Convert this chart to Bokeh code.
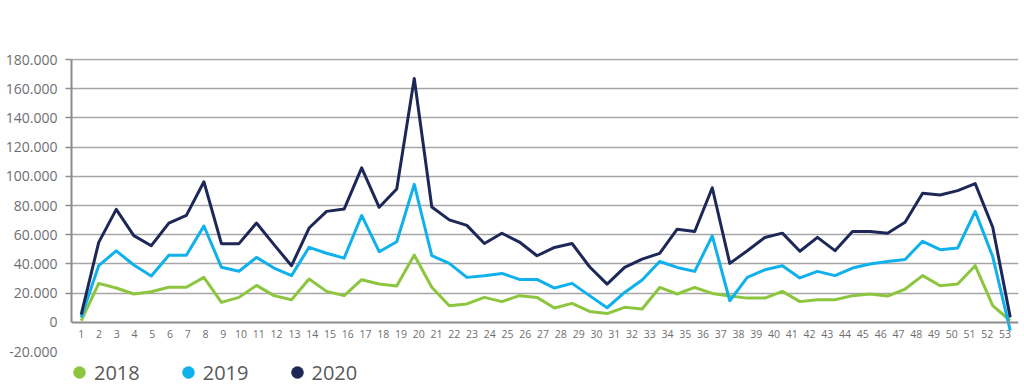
from bokeh.plotting import figure
from bokeh.models import Range1d, FixedTicker, LinearAxis, Legend, LegendItem, CustomJSTickFormatter
from bokeh.embed import file_html
from bokeh.resources import INLINE

# ---- data -------------------------------------------------------------
weeks = list(range(1, 55))                      # 54 plotted points
week_labels = [str(i) for i in range(1, 54)]    # axis labels 1..53
series_names = ["2018", "2019", "2020"]

v2018 = [1100, 26700, 23500, 19400, 21000, 24000, 24000, 30800, 13700, 17100,
         25300, 18300, 15500, 29700, 21200, 18300, 29200, 26300, 24900, 46100,
         24000, 11400, 12600, 17100, 14200, 18300, 17100, 9800, 13000, 7500,
         6000, 10300, 9100, 23900, 19400, 23900, 19800, 18000, 16600, 16600,
         21200, 14200, 15500, 15500, 18300, 19400, 18000, 22800, 32000, 25100,
         26300, 38800, 11400, 1100]
v2019 = [3400, 38800, 49000, 39300, 31700, 46000, 46000, 66000, 37700, 35000,
         44500, 37200, 32000, 51400, 47300, 44000, 73200, 48400, 55200, 94500,
         45700, 40400, 30800, 31900, 33500, 29400, 29400, 23500, 26700, 18300,
         10000, 20500, 29000, 41700, 37600, 34900, 59200, 14800, 30800, 36000,
         38800, 30400, 34900, 32000, 37200, 40000, 41600, 43100, 55500, 49800,
         50900, 76000, 45000, -5700]
v2020 = [5300, 54800, 77400, 59400, 52500, 68000, 73300, 96300, 53900, 53900,
         68000, 53200, 38800, 64600, 76000, 77600, 105800, 78800, 91300, 167000,
         79000, 70200, 66400, 54000, 61000, 55000, 45600, 51300, 54000, 38100,
         26200, 37600, 43300, 47200, 63800, 62200, 92200, 40400, 49000, 58100,
         61100, 48700, 58200, 49100, 62300, 62300, 61000, 68500, 88400, 87200,
         90200, 95000, 65100, 3400]

y_ticks = [-20000, 0, 20000, 40000, 60000, 80000, 100000, 120000, 140000, 160000, 180000]
y_tick_labels = ["-20.000", "0", "20.000", "40.000", "60.000", "80.000",
                 "100.000", "120.000", "140.000", "160.000", "180.000"]

colors = ["#8cc63f", "#0fb0ec", "#1d2858"]

# ---- figure -----------------------------------------------------------
# the frame reaches the bottom of the page so that the legend can sit inside it
x_start, x_end = 0.447, 54.47
p = figure(width=1024, height=388,
           x_range=Range1d(x_start, x_end), y_range=Range1d(-45300, 180700),
           output_backend="svg", toolbar_location=None,
           min_border_left=71, min_border_right=6, min_border_top=58, min_border_bottom=0,
           outline_line_color=None, background_fill_color="white", border_fill_color="white")

AXIS_GRAY = "#8c8c8c"
TEXT_GRAY = "#6d6e71"

y_fmt = CustomJSTickFormatter(args=dict(yvals=y_ticks, ylabels=y_tick_labels), code="""
const i = yvals.findIndex(t => Math.abs(t - tick) < 1e-6);
return i >= 0 ? ylabels[i] : "";
""")
blank_fmt = CustomJSTickFormatter(code="return '';")

# x axis (category labels), drawn along y = 0
label_pos = [1 + i * (52.7 / 52) for i in range(len(week_labels))]
x_fmt = CustomJSTickFormatter(args=dict(xpos=label_pos, xlabels=week_labels), code="""
const i = xpos.findIndex(t => Math.abs(t - tick) < 1e-6);
return i >= 0 ? xlabels[i] : "";
""")
xa = p.xaxis[0]
xa.fixed_location = 0
xa.ticker = FixedTicker(ticks=label_pos)
xa.formatter = x_fmt
xa.axis_line_color = AXIS_GRAY
xa.axis_line_width = 2
xa.major_tick_line_color = None
xa.minor_tick_line_color = None
xa.major_tick_out = 0
xa.major_tick_in = 0
xa.major_label_standoff = 8
xa.major_label_text_font = "Open Sans"
xa.major_label_text_font_size = "10.5px"
xa.major_label_text_color = TEXT_GRAY

# inner y axis: line and tick marks from 0 to 180.000, no labels
ya = p.yaxis[0]
ya.ticker = FixedTicker(ticks=y_ticks[2:])
ya.formatter = blank_fmt
ya.bounds = (0, 180000)
ya.axis_line_color = AXIS_GRAY
ya.axis_line_width = 2
ya.major_tick_line_color = AXIS_GRAY
ya.major_tick_line_width = 1.3
ya.major_tick_out = 6
ya.major_tick_in = 0
ya.minor_tick_line_color = None
ya.major_label_standoff = 0

# outer y axis: all the labels, no line, no ticks
ya2 = LinearAxis(ticker=FixedTicker(ticks=y_ticks), formatter=y_fmt,
                 axis_line_color=None, major_tick_line_color=None, minor_tick_line_color=None,
                 major_tick_out=0, major_tick_in=0, major_label_standoff=8,
                 major_label_text_font="Open Sans", major_label_text_font_size="14px",
                 major_label_text_color=TEXT_GRAY)
p.add_layout(ya2, "left")

p.xgrid.visible = False
p.ygrid[0].ticker = FixedTicker(ticks=y_ticks[2:])
p.ygrid[0].grid_line_color = "#a6a6a6"
p.ygrid[0].grid_line_width = 1.3

# ---- series -----------------------------------------------------------
items = []
for name, vals, c in zip(series_names, [v2018, v2019, v2020], colors):
    p.line(weeks, vals, line_color=c, line_width=3, line_join="round")
    # zero-size markers: invisible in the plot, used only for the round legend swatch
    r = p.scatter(weeks, vals, marker="circle", size=0, fill_color=c, line_color=c, line_width=0.5)
    items.append(LegendItem(label=name, renderers=[r]))

legend = Legend(items=items, location=(-7, 0), orientation="horizontal",
                glyph_width=30, glyph_height=32, label_height=32, label_standoff=0,
                spacing=33, padding=0, margin=0,
                border_line_color=None, background_fill_alpha=0,
                label_text_font="Open Sans", label_text_font_size="20px",
                label_text_color="#58595b")
p.add_layout(legend)

open("out.html", "w").write(file_html(p, INLINE))
